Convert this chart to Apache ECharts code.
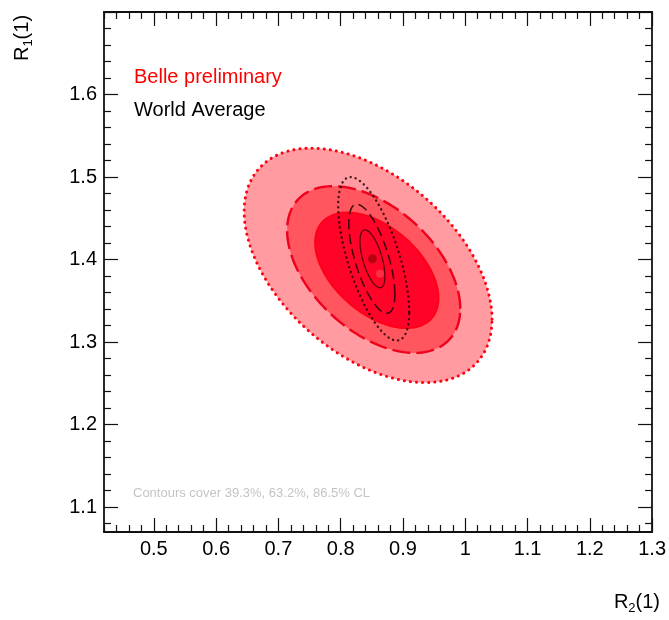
<!DOCTYPE html>
<html>
<head>
<meta charset="utf-8">
<script src="https://cdn.jsdelivr.net/npm/echarts@6/dist/echarts.min.js"></script>
<style>
  html, body { margin: 0; padding: 0; background: #fff; }
  #chart { width: 669px; height: 620px; }
</style>
</head>
<body>
<div id="chart"></div>
<script>
// axis ranges and tick labels
const xMin = 0.42, xMax = 1.30;
const yMin = 1.07, yMax = 1.70;
const xLabels = [0.5, 0.6, 0.7, 0.8, 0.9, 1.0, 1.1, 1.2, 1.3];
const yLabels = [1.1, 1.2, 1.3, 1.4, 1.5, 1.6, 1.7];

// Belle contours (outer 86.5%, middle 63.2%, inner 39.3%): centre, half extents, correlation
const belleCx = [0.844, 0.853, 0.858];
const belleCy = [1.393, 1.388, 1.387];
const belleHx = [0.199, 0.139, 0.099];
const belleHy = [0.142, 0.101, 0.070];
const belleRho = [-0.46, -0.47, -0.48];

// World average contours (outer, middle, inner)
const waCx = [0.853, 0.850, 0.851];
const waCy = [1.401, 1.401, 1.401];
const waHx = [0.057, 0.037, 0.020];
const waHy = [0.099, 0.066, 0.035];
const waRho = [-0.65, -0.65, -0.6];

// central values
const belleCentre = [0.863, 1.383];
const waCentre = [0.851, 1.401];

// minor ticks every 0.02
function minorTicks(lo, hi, majors) {
  const out = [];
  for (let v = Math.ceil(lo / 0.02 - 1e-6) * 0.02; v <= hi + 1e-9; v += 0.02) {
    const r = Math.round(v * 100) / 100;
    if (!majors.some(m => Math.abs(m - r) < 1e-6)) out.push(r);
  }
  return out;
}
const xMinor = minorTicks(xMin, xMax, xLabels);
const yMinor = minorTicks(yMin, yMax, yLabels);

const belleStyles = [
  { fill: '#ff9ba1', stroke: '#ff0010', lineWidth: 3, lineDash: [0.1, 6], lineCap: 'round' },
  { fill: '#ff5660', stroke: '#f0001a', lineWidth: 2.4, lineDash: [18, 6] },
  { fill: '#ff0428', stroke: '#ff0018', lineWidth: 2 }
];
const waStyles = [
  { fill: 'none', stroke: 'rgba(20,0,0,0.8)', lineWidth: 2.4, lineDash: [0.1, 5], lineCap: 'round' },
  { fill: 'none', stroke: 'rgba(20,0,0,0.8)', lineWidth: 1.6, lineDash: [10, 5] },
  { fill: 'none', stroke: 'rgba(40,0,0,0.75)', lineWidth: 1.3 }
];

function zip(cx, cy, hx, hy, rho) {
  return cx.map((c, i) => [c, cy[i], hx[i], hy[i], rho[i]]);
}

function ellipseRenderer(styles) {
  return function (params, api) {
    const cx = api.value(0), cy = api.value(1);
    const hx = api.value(2), hy = api.value(3), rho = api.value(4);
    const s = Math.sqrt(1 - rho * rho);
    const pts = [];
    const n = 180;
    for (let i = 0; i < n; i++) {
      const t = 2 * Math.PI * i / n;
      pts.push(api.coord([cx + hx * Math.cos(t), cy + hy * (rho * Math.cos(t) + s * Math.sin(t))]));
    }
    return { type: 'polygon', shape: { points: pts }, style: styles[params.dataIndex] };
  };
}

const font = '"Liberation Sans", Arial, sans-serif';
const frame = { show: true, lineStyle: { color: '#111', width: 1.8 } };
const noLine = { show: false };

function xAx(position, ticks, len, labels) {
  return {
    type: 'value', min: xMin, max: xMax, position: position,
    axisLine: labels === null ? noLine : frame,
    axisTick: { show: true, inside: true, length: len, customValues: ticks, lineStyle: { color: '#111', width: 1.2 } },
    axisLabel: labels ? { show: true, customValues: labels, margin: 7, color: '#000', fontSize: 20, fontFamily: font,
      formatter: v => String(+(+v).toFixed(1)) } : { show: false },
    splitLine: { show: false }
  };
}
function yAx(position, ticks, len, labels) {
  return {
    type: 'value', min: yMin, max: yMax, position: position,
    axisLine: labels === null ? noLine : frame,
    axisTick: { show: true, inside: true, length: len, customValues: ticks, lineStyle: { color: '#111', width: 1.2 } },
    axisLabel: labels ? { show: true, customValues: labels, margin: 7, color: '#000', fontSize: 20, fontFamily: font,
      formatter: v => (+v).toFixed(1) } : { show: false },
    splitLine: { show: false }
  };
}

const chart = echarts.init(document.getElementById('chart'), null, { renderer: 'canvas' });
chart.setOption({
  animation: false,
  backgroundColor: '#fff',
  grid: { left: 104, right: 10, top: 12, bottom: 88 },
  xAxis: [
    xAx('bottom', xLabels, 14, xLabels),
    xAx('bottom', xMinor, 7, null),
    xAx('top', xLabels, 14, false),
    xAx('top', xMinor, 7, null)
  ],
  yAxis: [
    yAx('left', yLabels, 14, yLabels.slice(0, 6)),
    yAx('left', yMinor, 7, null),
    yAx('right', yLabels, 14, false),
    yAx('right', yMinor, 7, null)
  ],
  series: [
    {
      type: 'custom', xAxisIndex: 0, yAxisIndex: 0, z: 2,
      renderItem: ellipseRenderer(belleStyles),
      data: zip(belleCx, belleCy, belleHx, belleHy, belleRho)
    },
    {
      type: 'custom', xAxisIndex: 0, yAxisIndex: 0, z: 3,
      renderItem: ellipseRenderer(waStyles),
      data: zip(waCx, waCy, waHx, waHy, waRho)
    },
    {
      type: 'scatter', xAxisIndex: 0, yAxisIndex: 0, z: 4, symbolSize: 8,
      itemStyle: { color: '#ff3848' }, data: [belleCentre]
    },
    {
      type: 'scatter', xAxisIndex: 0, yAxisIndex: 0, z: 5, symbolSize: 9,
      itemStyle: { color: '#a8000e' }, data: [waCentre]
    }
  ],
  graphic: [
    { type: 'text', x: 134, y: 77, style: { text: 'Belle preliminary', fill: '#ff0000', fontSize: 20, fontFamily: font, verticalAlign: 'middle' } },
    { type: 'text', x: 134, y: 110, style: { text: 'World Average', fill: '#000', fontSize: 20, fontFamily: font, verticalAlign: 'middle' } },
    { type: 'text', x: 133, y: 493, style: { text: 'Contours cover 39.3%, 63.2%, 86.5% CL', fill: '#c4c4c4', fontSize: 13, fontFamily: font, verticalAlign: 'middle' } },
    {
      type: 'text', x: 22, y: 38, rotation: Math.PI / 2,
      style: {
        text: '{m|R}{s|1}{m|(1)}', align: 'center', verticalAlign: 'middle',
        rich: {
          m: { fontSize: 20, fontFamily: font, fill: '#000', lineHeight: 26 },
          s: { fontSize: 13, fontFamily: font, fill: '#000', verticalAlign: 'bottom', lineHeight: 26 }
        }
      }
    },
    {
      type: 'text', x: 660, y: 602,
      style: {
        text: '{m|R}{s|2}{m|(1)}', align: 'right', verticalAlign: 'middle',
        rich: {
          m: { fontSize: 20, fontFamily: font, fill: '#000', lineHeight: 26 },
          s: { fontSize: 13, fontFamily: font, fill: '#000', verticalAlign: 'bottom', lineHeight: 26 }
        }
      }
    }
  ]
});
</script>
</body>
</html>
